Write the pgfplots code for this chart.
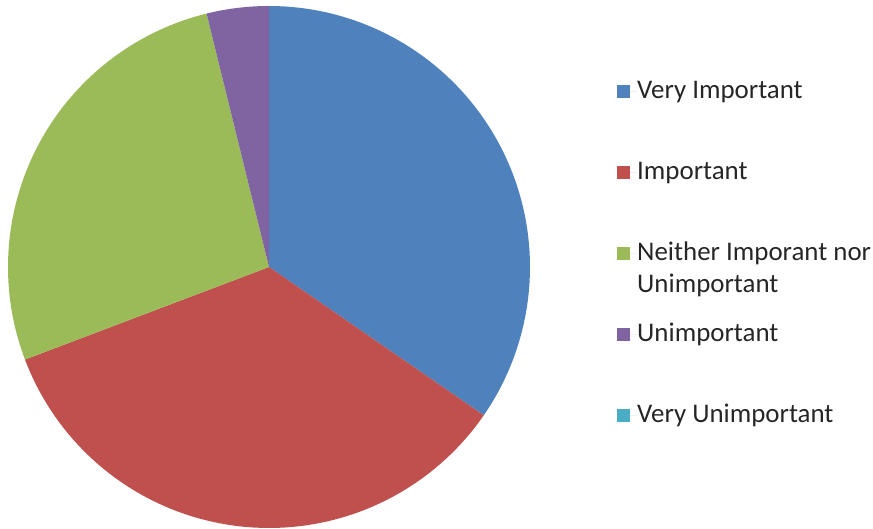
\documentclass[border=0pt]{standalone}
\usepackage{pgfplots}
\pgfplotsset{compat=1.18}
\usepackage{fontspec}
\setmainfont{Carlito}
\definecolor{c1}{HTML}{4F81BD}
\definecolor{c2}{HTML}{C0504D}
\definecolor{c3}{HTML}{9BBB59}
\definecolor{c4}{HTML}{8064A2}
\definecolor{c5}{HTML}{4BACC6}
% response counts
\def\nA{9}\def\nB{9}\def\nC{7}\def\nD{1}\def\nE{0}
\pgfmathsetmacro\tot{\nA+\nB+\nC+\nD+\nE}
\pgfmathsetmacro\aA{90-360*\nA/\tot}
\pgfmathsetmacro\aB{\aA-360*\nB/\tot}
\pgfmathsetmacro\aC{\aB-360*\nC/\tot}
\pgfmathsetmacro\aD{\aC-360*\nD/\tot}
\begin{document}
\begin{tikzpicture}
\begin{axis}[
  width=873bp, height=529bp, scale only axis,
  xmin=-269, xmax=604, ymin=-262, ymax=267,
  hide axis, clip=false,
  legend image code/.code={\fill[#1] (0bp,-6bp) rectangle (13bp,7bp);\path (0bp,0bp) -- (20bp,0bp);},
  legend cell align=left,
  legend style={draw=none, fill=none, at={(axis cs:348,188)}, anchor=north west,
    inner sep=0pt, row sep=56bp,
    font=\fontsize{27}{32}\selectfont, text=black!85,
    nodes={inner sep=0pt, text height=19bp, text depth=6bp}},
]
\addplot[fill=c1, draw=none, domain=\aA:90, samples=80, variable=\t]
  ({261*cos(t)},{261*sin(t)}) -- (axis cs:0,0) -- cycle;
\addlegendentry{Very Important}
\addplot[fill=c2, draw=none, domain=\aB:\aA, samples=80, variable=\t]
  ({261*cos(t)},{261*sin(t)}) -- (axis cs:0,0) -- cycle;
\addlegendentry{Important}
\addplot[fill=c3, draw=none, domain=\aC:\aB, samples=80, variable=\t]
  ({261*cos(t)},{261*sin(t)}) -- (axis cs:0,0) -- cycle;
\addlegendentry{\smash{\begin{tabular}[t]{@{}l@{}}Neither Imporant nor\\Unimportant\end{tabular}}}
\addplot[fill=c4, draw=none, domain=\aD:\aC, samples=20, variable=\t]
  ({261*cos(t)},{261*sin(t)}) -- (axis cs:0,0) -- cycle;
\addlegendentry{Unimportant}
\addlegendimage{fill=c5, draw=none}
\addlegendentry{Very Unimportant}
\end{axis}
\path (current axis.south west) rectangle (current axis.north east);
\end{tikzpicture}
\end{document}
